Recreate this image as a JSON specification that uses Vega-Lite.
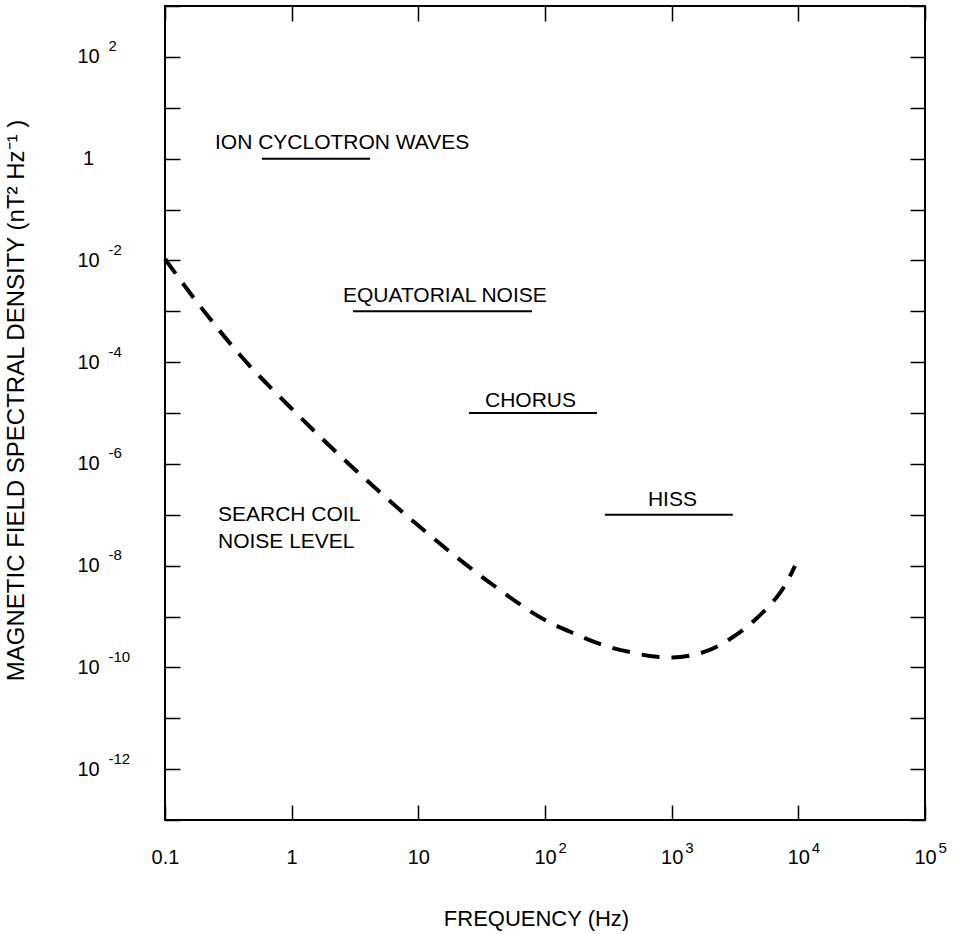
{
  "$schema": "https://vega.github.io/schema/vega-lite/v6.json",
  "width": 760,
  "height": 814,
  "autosize": {"type": "none"},
  "padding": {"left": 165, "top": 6, "right": 40, "bottom": 114},
  "background": "white",
  "config": {
    "view": {"stroke": "#000", "strokeWidth": 2},
    "axis": {
      "grid": false,
      "domain": false,
      "labelFont": "Liberation Sans",
      "titleFont": "Liberation Sans",
      "labelColor": "#000",
      "titleColor": "#000",
      "tickColor": "#000",
      "tickWidth": 1.5,
      "titleFontWeight": "normal",
      "labelFlush": false,
      "labelOverlap": false,
      "labelBound": false
    }
  },
  "datasets": {
    "curve": [
      {"frequency": 0.1, "density": 1.064e-2},
      {"frequency": 0.1889, "density": 1.268e-3},
      {"frequency": 0.391, "density": 1.38e-4},
      {"frequency": 0.988, "density": 1.253e-5},
      {"frequency": 2.887, "density": 9.51e-7},
      {"frequency": 10.31, "density": 5.74e-8},
      {"frequency": 38.86, "density": 4.16e-9},
      {"frequency": 100, "density": 8.53e-10},
      {"frequency": 166.4, "density": 4.74e-10},
      {"frequency": 287.1, "density": 2.75e-10},
      {"frequency": 469, "density": 2.0e-10},
      {"frequency": 674.5, "density": 1.67e-10},
      {"frequency": 1006, "density": 1.56e-10},
      {"frequency": 1474, "density": 1.75e-10},
      {"frequency": 1901, "density": 2.1e-10},
      {"frequency": 2407, "density": 2.75e-10},
      {"frequency": 3050, "density": 3.95e-10},
      {"frequency": 3933, "density": 6.22e-10},
      {"frequency": 4804, "density": 9.77e-10},
      {"frequency": 5974, "density": 1.68e-9},
      {"frequency": 7167, "density": 2.9e-9},
      {"frequency": 8284, "density": 5.21e-9},
      {"frequency": 9413, "density": 9.84e-9}
    ],
    "bands": [
      {"band": "ION CYCLOTRON WAVES", "f_low": 0.583, "f_high": 4.15, "level": 1},
      {"band": "EQUATORIAL NOISE", "f_low": 3.05, "f_high": 78.9, "level": 0.001},
      {"band": "CHORUS", "f_low": 25.1, "f_high": 257, "level": 1e-5},
      {"band": "HISS", "f_low": 297, "f_high": 3040, "level": 1e-7}
    ],
    "labels": [
      {"label": "ION CYCLOTRON WAVES", "f": 0.248, "s": 2.04},
      {"label": "EQUATORIAL NOISE", "f": 2.54, "s": 0.002},
      {"label": "CHORUS", "f": 33.6, "s": 1.74e-5},
      {"label": "HISS", "f": 649, "s": 1.97e-7},
      {"label": "SEARCH COIL", "f": 0.262, "s": 1e-7},
      {"label": "NOISE LEVEL", "f": 0.262, "s": 2.95e-8}
    ]
  },
  "layer": [
    {
      "data": {"name": "curve"},
      "mark": {"type": "line", "color": "#000", "strokeWidth": 4, "strokeDash": [18, 12], "interpolate": "monotone"},
      "encoding": {
        "x": {
          "field": "frequency", "type": "quantitative",
          "scale": {"type": "log", "domain": [0.1, 100000], "nice": false},
          "axis": {
            "orient": "bottom",
            "values": [0.1, 1, 10, 100, 1000, 10000, 100000],
            "tickSize": -15,
            "labelExpr": "datum.value < 0.5 ? '0.1' : datum.value < 5 ? '1' : '10'",
            "labelFontSize": 20,
            "labelAlign": "center",
            "labelBaseline": "top",
            "labelPadding": 42,
            "title": "FREQUENCY (Hz)",
            "titleFontSize": 22,
            "titleX": 371,
            "titleY": 105,
            "titleBaseline": "alphabetic",
            "titleAlign": "center",
            "titleAngle": 0
          }
        },
        "y": {
          "field": "density", "type": "quantitative",
          "scale": {"type": "log", "domain": [1e-13, 1000], "nice": false},
          "axis": {
            "orient": "left",
            "values": [1e-13, 1e-12, 1e-11, 1e-10, 1e-9, 1e-8, 1e-7, 1e-6, 1e-5, 1e-4, 1e-3, 1e-2, 1e-1, 1, 10, 100, 1000],
            "tickSize": -15,
            "labelExpr": "(round(log(datum.value)/LN10) % 2 != 0) ? '' : (round(log(datum.value)/LN10) == 0 ? '1' : '10')",
            "labelFontSize": 20,
            "labelAlign": "center",
            "labelBaseline": "middle",
            "labelPadding": 92,
            "title": "MAGNETIC FIELD SPECTRAL DENSITY (nT² Hz⁻¹ )",
            "titleFontSize": 24,
            "titleAngle": -90,
            "titleX": -142,
            "titleY": 394,
            "titleBaseline": "alphabetic",
            "titleAlign": "center"
          }
        }
      }
    },
    {
      "data": {"name": "bands"},
      "mark": {"type": "rule", "color": "#000", "strokeWidth": 2},
      "encoding": {
        "x": {
          "field": "f_low", "type": "quantitative",
          "scale": {"type": "log", "domain": [0.1, 100000], "nice": false},
          "axis": {
            "orient": "bottom",
            "values": [100, 1000, 10000, 100000],
            "ticks": false,
            "labelExpr": "'' + round(log(datum.value)/LN10)",
            "labelFontSize": 15,
            "labelAlign": "left",
            "labelBaseline": "top",
            "labelPadding": 20,
            "labelOffset": 13,
            "title": null
          }
        },
        "x2": {"field": "f_high"},
        "y": {
          "field": "level", "type": "quantitative",
          "scale": {"type": "log", "domain": [1e-13, 1000], "nice": false},
          "axis": {
            "orient": "left",
            "values": [1e-12, 1e-10, 1e-8, 1e-6, 1e-4, 1e-2, 100],
            "ticks": false,
            "labelExpr": "'' + round(log(datum.value)/LN10)",
            "labelFontSize": 15,
            "labelAlign": "left",
            "labelBaseline": "middle",
            "labelPadding": 57,
            "labelOffset": -11,
            "title": null
          }
        }
      }
    },
    {
      "data": {"name": "labels"},
      "mark": {"type": "text", "align": "left", "baseline": "middle", "font": "Liberation Sans", "fontSize": 21, "color": "#000"},
      "encoding": {
        "x": {
          "field": "f", "type": "quantitative",
          "scale": {"type": "log", "domain": [0.1, 100000], "nice": false},
          "axis": {
            "orient": "top",
            "values": [0.1, 1, 10, 100, 1000, 10000, 100000],
            "tickSize": -15,
            "labels": false,
            "title": null
          }
        },
        "y": {
          "field": "s", "type": "quantitative",
          "scale": {"type": "log", "domain": [1e-13, 1000], "nice": false},
          "axis": {
            "orient": "right",
            "values": [1e-13, 1e-12, 1e-11, 1e-10, 1e-9, 1e-8, 1e-7, 1e-6, 1e-5, 1e-4, 1e-3, 1e-2, 1e-1, 1, 10, 100, 1000],
            "tickSize": -15,
            "labels": false,
            "title": null
          }
        },
        "text": {"field": "label"}
      }
    }
  ],
  "resolve": {"axis": {"x": "independent", "y": "independent"}}
}
